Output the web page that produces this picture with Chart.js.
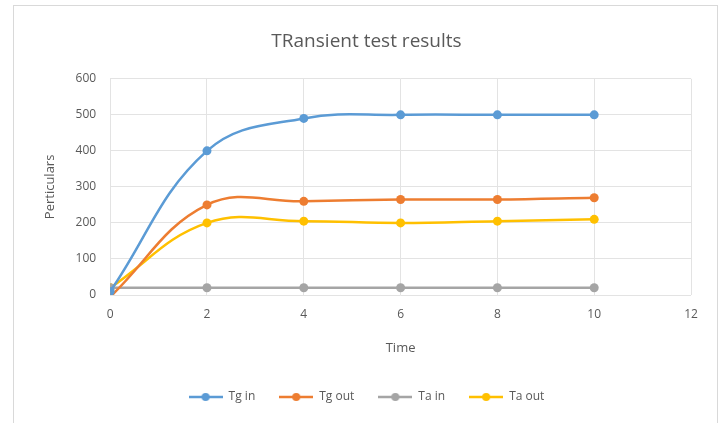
<!DOCTYPE html>
<html>
<head>
<meta charset="utf-8">
<script src="https://cdn.jsdelivr.net/npm/chart.js@4"></script>
<style>
  body { margin: 0; background: #fff; }
  #wrap { position: relative; width: 725px; height: 423px; }
  #frame { position: absolute; left: 13px; top: 5px; width: 703px; height: 430px; border: 1px solid #d9d9d9; pointer-events: none; }
</style>
</head>
<body>
<div id="wrap">
  <canvas id="TransientChart" width="725" height="423"></canvas>
  <div id="frame"></div>
</div>
<script>
// data
var times = [0, 2, 4, 6, 8, 10];
var tgIn = [10, 400, 490, 500, 500, 500];
var tgOut = [-5, 250, 260, 265, 265, 270];
var taIn = [20, 20, 20, 20, 20, 20];
var taOut = [20, 200, 205, 200, 205, 210];
var xTicks = [0, 2, 4, 6, 8, 10, 12];
var yTicks = [0, 100, 200, 300, 400, 500, 600];

var textColor = "#595959";
var gridColor = "#e3e3e3";
var fontName = "'Open Sans', sans-serif";

function toPoints(values) {
    var pts = [];
    for (var i = 0; i < times.length; i++) {
        pts.push({ x: times[i], y: values[i] });
    }
    return pts;
}

// legend marker: short line with a dot in the middle, like Excel
function legendMarker(color) {
    var c = document.createElement("canvas");
    c.width = 34;
    c.height = 10;
    var g = c.getContext("2d");
    g.strokeStyle = color;
    g.lineWidth = 2.5;
    g.beginPath();
    g.moveTo(0, 5);
    g.lineTo(34, 5);
    g.stroke();
    g.fillStyle = color;
    g.beginPath();
    g.arc(17, 5, 4, 0, Math.PI * 2);
    g.fill();
    return c;
}

function makeSet(label, values, color) {
    return {
        label: label,
        data: toPoints(values),
        borderColor: color,
        backgroundColor: color,
        borderWidth: 2.5,
        pointRadius: 4.5,
        pointHoverRadius: 4.5,
        pointBorderWidth: 0,
        pointStyle: "circle",
        tension: 0.4,
        fill: false,
        showLine: true
    };
}

var ctx = document.getElementById("TransientChart").getContext("2d");
var transient_chart = new Chart(ctx, {
    type: "scatter",
    data: {
        datasets: [
            makeSet("Tg in", tgIn, "#5b9bd5"),
            makeSet("Tg out", tgOut, "#ed7d31"),
            makeSet("Ta in", taIn, "#a5a5a5"),
            makeSet("Ta out", taOut, "#ffc000")
        ]
    },
    options: {
        responsive: false,
        animation: false,
        layout: { padding: { left: 42, right: 34, top: 30, bottom: 10 } },
        plugins: {
            title: {
                display: true,
                text: "TRansient test results",
                color: textColor,
                font: { family: fontName, size: 19, weight: "normal" },
                padding: { top: 0, bottom: 26 }
            },
            legend: {
                position: "bottom",
                labels: {
                    usePointStyle: true,
                    pointStyleWidth: 34,
                    color: textColor,
                    font: { family: fontName, size: 12 },
                    padding: 24,
                    generateLabels: function (chart) {
                        var items = Chart.defaults.plugins.legend.labels.generateLabels(chart);
                        items.forEach(function (item) {
                            item.pointStyle = legendMarker(chart.data.datasets[item.datasetIndex].borderColor);
                        });
                        return items;
                    }
                }
            },
            tooltip: { enabled: false }
        },
        scales: {
            x: {
                type: "linear",
                min: 0,
                max: 12,
                afterBuildTicks: function (axis) {
                    axis.ticks = xTicks.map(function (v) { return { value: v }; });
                },
                grid: { color: gridColor, drawTicks: false },
                border: { display: false },
                ticks: { color: textColor, font: { family: fontName, size: 12 }, padding: 12 },
                title: {
                    display: true,
                    text: "Time",
                    color: textColor,
                    font: { family: fontName, size: 13 },
                    padding: { top: 7, bottom: 11 }
                }
            },
            y: {
                min: 0,
                max: 600,
                afterBuildTicks: function (axis) {
                    axis.ticks = yTicks.map(function (v) { return { value: v }; });
                },
                grid: { color: gridColor, drawTicks: false },
                border: { display: false },
                ticks: { color: textColor, font: { family: fontName, size: 12 }, padding: 14 },
                title: {
                    display: true,
                    text: "Perticulars",
                    color: textColor,
                    font: { family: fontName, size: 13 },
                    padding: { top: 0, bottom: 4 }
                }
            }
        }
    }
});
</script>
</body>
</html>
